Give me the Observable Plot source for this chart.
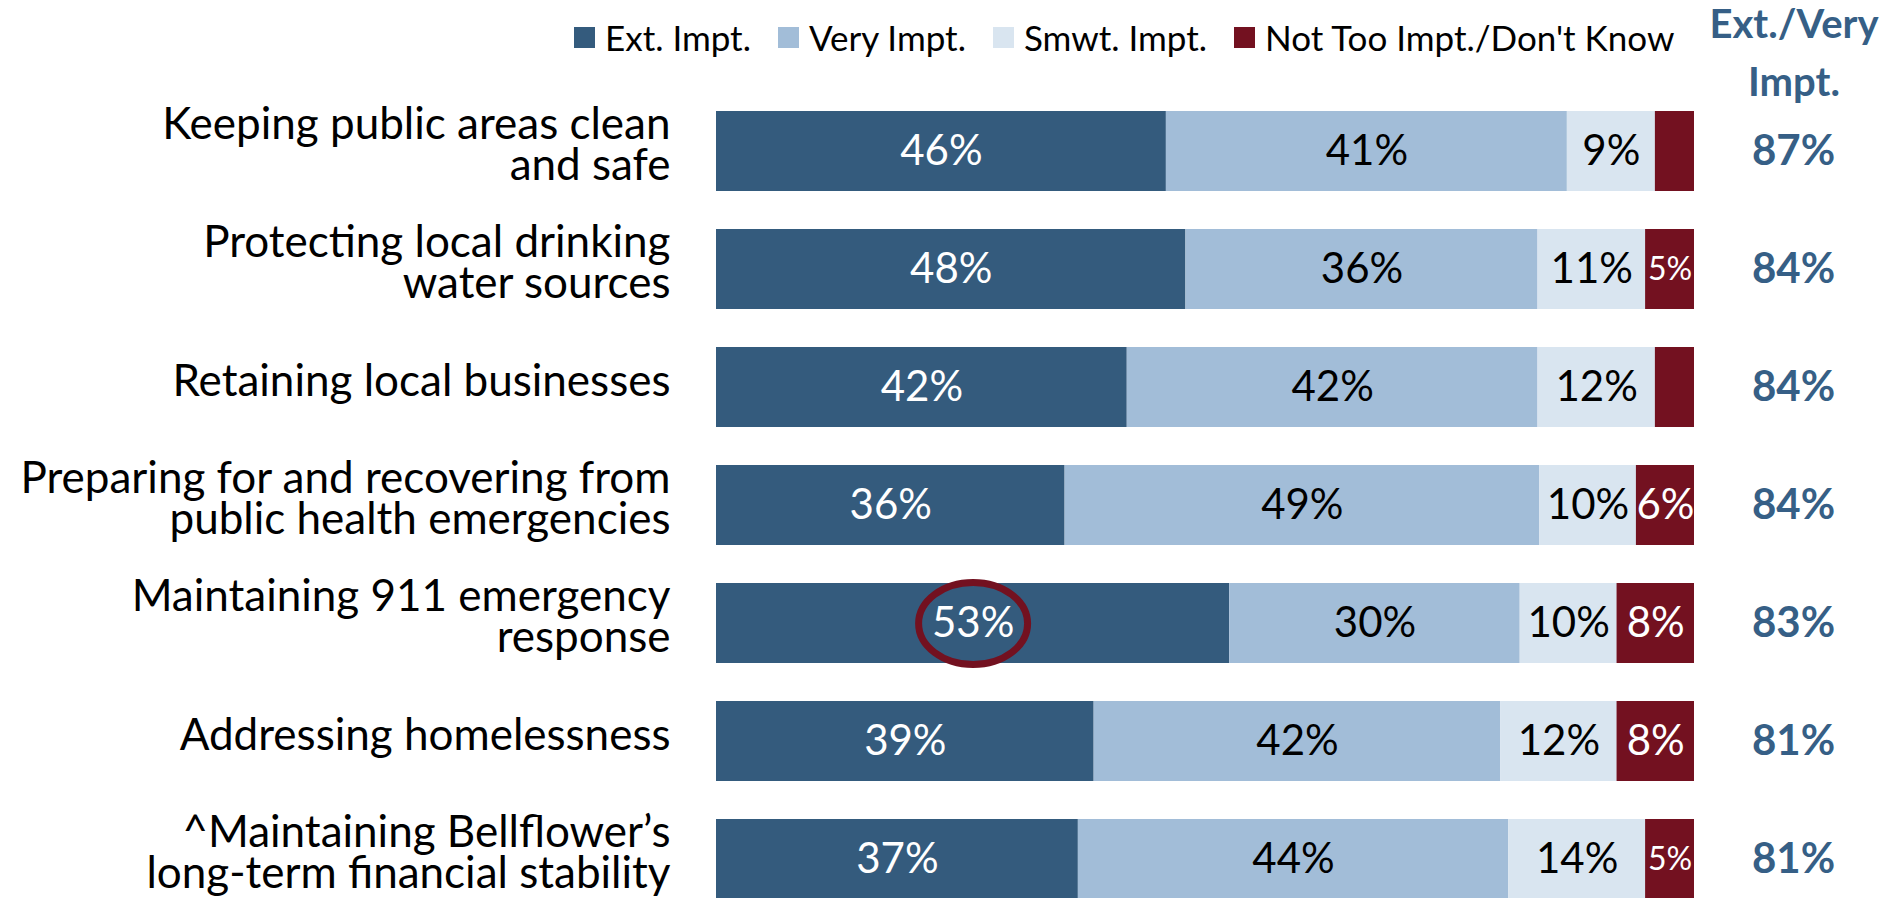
<!DOCTYPE html>
<html>
<head>
<meta charset="utf-8">
<script src="https://cdn.jsdelivr.net/npm/d3@7"></script>
<script src="https://cdn.jsdelivr.net/npm/@observablehq/plot@0.6"></script>
<style>
  body { margin: 0; background: #fff; font-family: Lato, sans-serif; }
  #wrap { position: relative; width: 1893px; height: 898px; overflow: hidden; }
  #top { position: relative; height: 60px; z-index: 2; }
  #legend { position: absolute; left: 574px; top: 16px; }
  #legend .lg-swatches { font-family: Lato, sans-serif !important; font-size: 35px !important; color: #000; }
  #legend .lg-swatch { margin-right: 27px !important; }
  #legend .lg-swatch > svg { margin-right: 10px !important; }
  .head { position: absolute; left: 1694px; width: 200px; text-align: center; color: #365f86;
          font: bold 40px Lato, sans-serif; line-height: 36px; white-space: nowrap; }
  #chart { position: relative; z-index: 1; }
</style>
</head>
<body>
<div id="wrap">
  <div id="top">
    <div id="legend"></div>
    <div class="head" style="top:5px">Ext./Very</div>
    <div class="head" style="top:63px">Impt.</div>
  </div>
  <div id="chart"></div>
</div>
<script>
const categories = [
  "Keeping public areas clean\nand safe",
  "Protecting local drinking\nwater sources",
  "Retaining local businesses",
  "Preparing for and recovering from\npublic health emergencies",
  "Maintaining 911 emergency\nresponse",
  "Addressing homelessness",
  "^Maintaining Bellflower\u2019s\nlong-term financial stability"
];
const series = ["Ext. Impt.", "Very Impt.", "Smwt. Impt.", "Not Too Impt./Don't Know"];
const seriesColors = ["#345b7d", "#a2bdd8", "#d9e5f0", "#731120"];
const extImpt  = [46, 48, 42, 36, 53, 39, 37];
const veryImpt = [41, 36, 42, 49, 30, 42, 44];
const smwtImpt = [9, 11, 12, 10, 10, 12, 14];
const notToo   = [4, 5, 4, 6, 8, 8, 5];
const extVeryTotal = [87, 84, 84, 84, 83, 81, 81];
const highlighted = {category: categories[4], series: series[0]};

const data = [];
categories.forEach((c, i) => {
  [extImpt, veryImpt, smwtImpt, notToo].forEach((arr, j) => {
    data.push({category: c, series: series[j], value: arr[i]});
  });
});

const stack = (o = {}) => Plot.stackX({
  x: "value", y: "category", z: "series", order: series, offset: "normalize", ...o
});

const ellipse = {
  draw(ctx) {
    const rx = 54.5, ry = 41, k = 0.5523;
    ctx.moveTo(rx, 0);
    ctx.bezierCurveTo(rx, k * ry, k * rx, ry, 0, ry);
    ctx.bezierCurveTo(-k * rx, ry, -rx, k * ry, -rx, 0);
    ctx.bezierCurveTo(-rx, -k * ry, -k * rx, -ry, 0, -ry);
    ctx.bezierCurveTo(k * rx, -ry, rx, -k * ry, rx, 0);
    ctx.closePath();
  }
};

const segLabel = (s, fill, size, cond) => Plot.text(data, stack({
  text: d => (d.series === s && cond(d)) ? d.value + "%" : "",
  fill, fontSize: size
}));

const plot = Plot.plot({
  width: 1893,
  height: 838,
  marginLeft: 716,
  marginRight: 199,
  marginTop: 0,
  marginBottom: 0,
  style: {fontFamily: "Lato, sans-serif", background: "transparent"},
  x: {domain: [0, 1], axis: null},
  y: {domain: categories, range: [11.4, 878], padding: 0.326, axis: null},
  color: {domain: series, range: seriesColors},
  r: {domain: [0, 1], range: [0, 5]},
  marks: [
    Plot.barX(data, stack({fill: "series"})),
    segLabel(series[0], "white", 42, d => true),
    segLabel(series[1], "black", 42, d => true),
    segLabel(series[2], "black", 42, d => true),
    segLabel(series[3], "white", 42, d => d.value >= 6),
    segLabel(series[3], "white", 32, d => d.value === 5),
    Plot.dot(data, stack({
      r: d => (d.category === highlighted.category && d.series === highlighted.series) ? 1 : 0,
      symbol: ellipse, stroke: "#731120", strokeWidth: 7, fill: "none"
    })),
    Plot.text(categories, {
      y: d => d, text: d => d, frameAnchor: "left", textAnchor: "end",
      dx: -46, dy: -5, fontSize: 44, lineHeight: 0.93, fill: "black"
    }),
    Plot.text(categories, {
      y: d => d, text: (d, i) => extVeryTotal[i] + "%", frameAnchor: "right",
      textAnchor: "middle", dx: 99, fontSize: 42, fontWeight: "bold", fill: "#365f86"
    })
  ]
});
document.getElementById("chart").appendChild(plot);

const legend = plot.legend("color", {
  legend: "swatches", swatchSize: 21, className: "lg"
});
document.getElementById("legend").appendChild(legend);
</script>
</body>
</html>
